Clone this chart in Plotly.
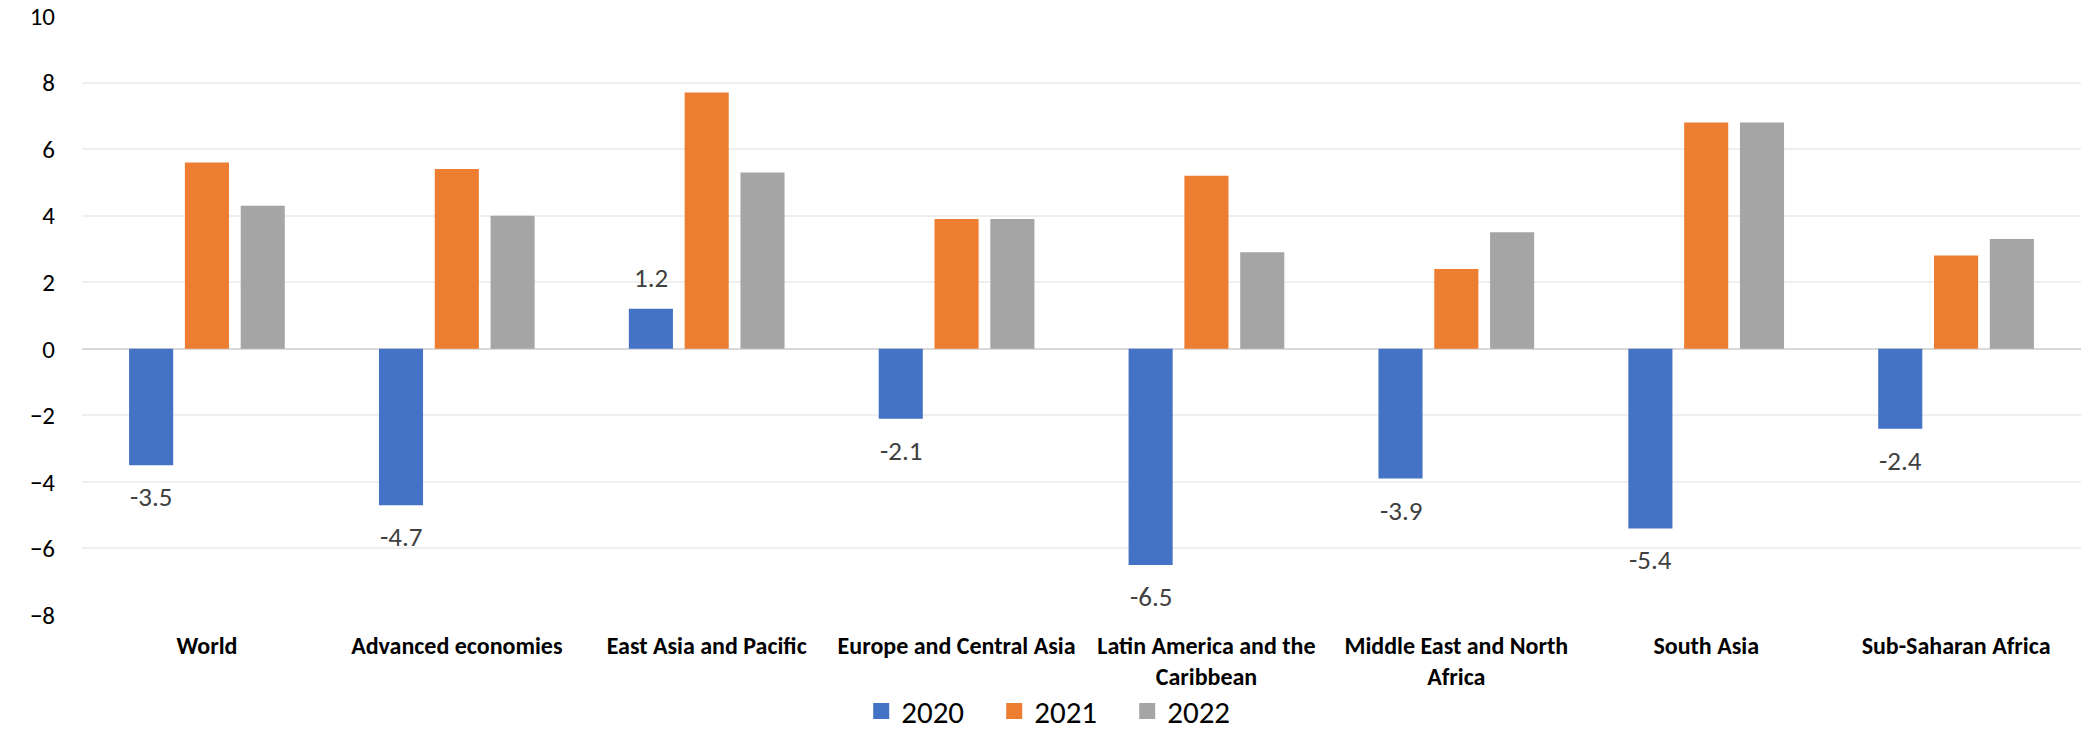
import plotly.graph_objects as go

categories = ["World", "Advanced economies", "East Asia and Pacific", "Europe and Central Asia",
              "Latin America and the<br>Caribbean", "Middle East and North<br>Africa",
              "South Asia", "Sub-Saharan Africa"]
series_names = ["2020", "2021", "2022"]
v2020 = [-3.5, -4.7, 1.2, -2.1, -6.5, -3.9, -5.4, -2.4]
v2021 = [5.6, 5.4, 7.7, 3.9, 5.2, 2.4, 6.8, 2.8]
v2022 = [4.3, 4.0, 5.3, 3.9, 2.9, 3.5, 6.8, 3.3]
colors = ["#4472C4", "#ED7D31", "#A5A5A5"]
y_ticks = [-8, -6, -4, -2, 0, 2, 4, 6, 8, 10]

BARGAP = 0.33
GROUPGAP = 0.21
FONT = "Calibri, Carlito, Lato, sans-serif"

fig = go.Figure()
for name, vals, col in zip(series_names, [v2020, v2021, v2022], colors):
    fig.add_trace(go.Bar(x=categories, y=vals, name=name, marker_color=col,
                         marker_line_width=0, showlegend=False))
    # legend proxy with larger square symbol
    fig.add_trace(go.Scatter(x=[None], y=[None], mode="markers", name=name,
                             marker=dict(symbol="square", size=16, color=col)))

# data labels for the 2020 series
slot = (1 - BARGAP) / 3
for i, v in enumerate(v2020):
    fig.add_annotation(x=i - slot, y=v, xref="x", yref="y", text=f"{v:.1f}",
                       showarrow=False, yanchor="top" if v < 0 else "bottom",
                       yshift=-13 if v < 0 else 13,
                       font=dict(family=FONT, size=27, color="#404040"))

fig.update_layout(
    width=2088, height=734,
    margin=dict(l=82, r=7, t=16, b=119, autoexpand=False),
    paper_bgcolor="white", plot_bgcolor="white",
    barmode="group", bargap=BARGAP, bargroupgap=GROUPGAP,
    font=dict(family=FONT, color="#000000"),
    legend=dict(orientation="h", xref="container", yref="container",
                x=0.508, xanchor="center", y=0.031, yanchor="middle",
                font=dict(family=FONT, size=31, color="#000000"),
                bgcolor="rgba(0,0,0,0)",
                itemsizing="trace", entrywidth=88, entrywidthmode="pixels",
                tracegroupgap=0, borderwidth=0),
)
fig.update_xaxes(showgrid=False, showline=False, ticks="",
                 tickfont=dict(family=FONT, size=24, color="#000000", weight="bold"),
                 tickangle=0, ticklabelstandoff=14)
fig.update_yaxes(range=[-8, 10], tickvals=y_ticks, showgrid=True, gridcolor="#EFEFEF",
                 gridwidth=1.5, zeroline=True, zerolinecolor="#D9D9D9", zerolinewidth=2,
                 showline=False, ticks="", ticklabelstandoff=26,
                 tickfont=dict(family=FONT, size=25, color="#000000"))

fig.write_html("out.html")
